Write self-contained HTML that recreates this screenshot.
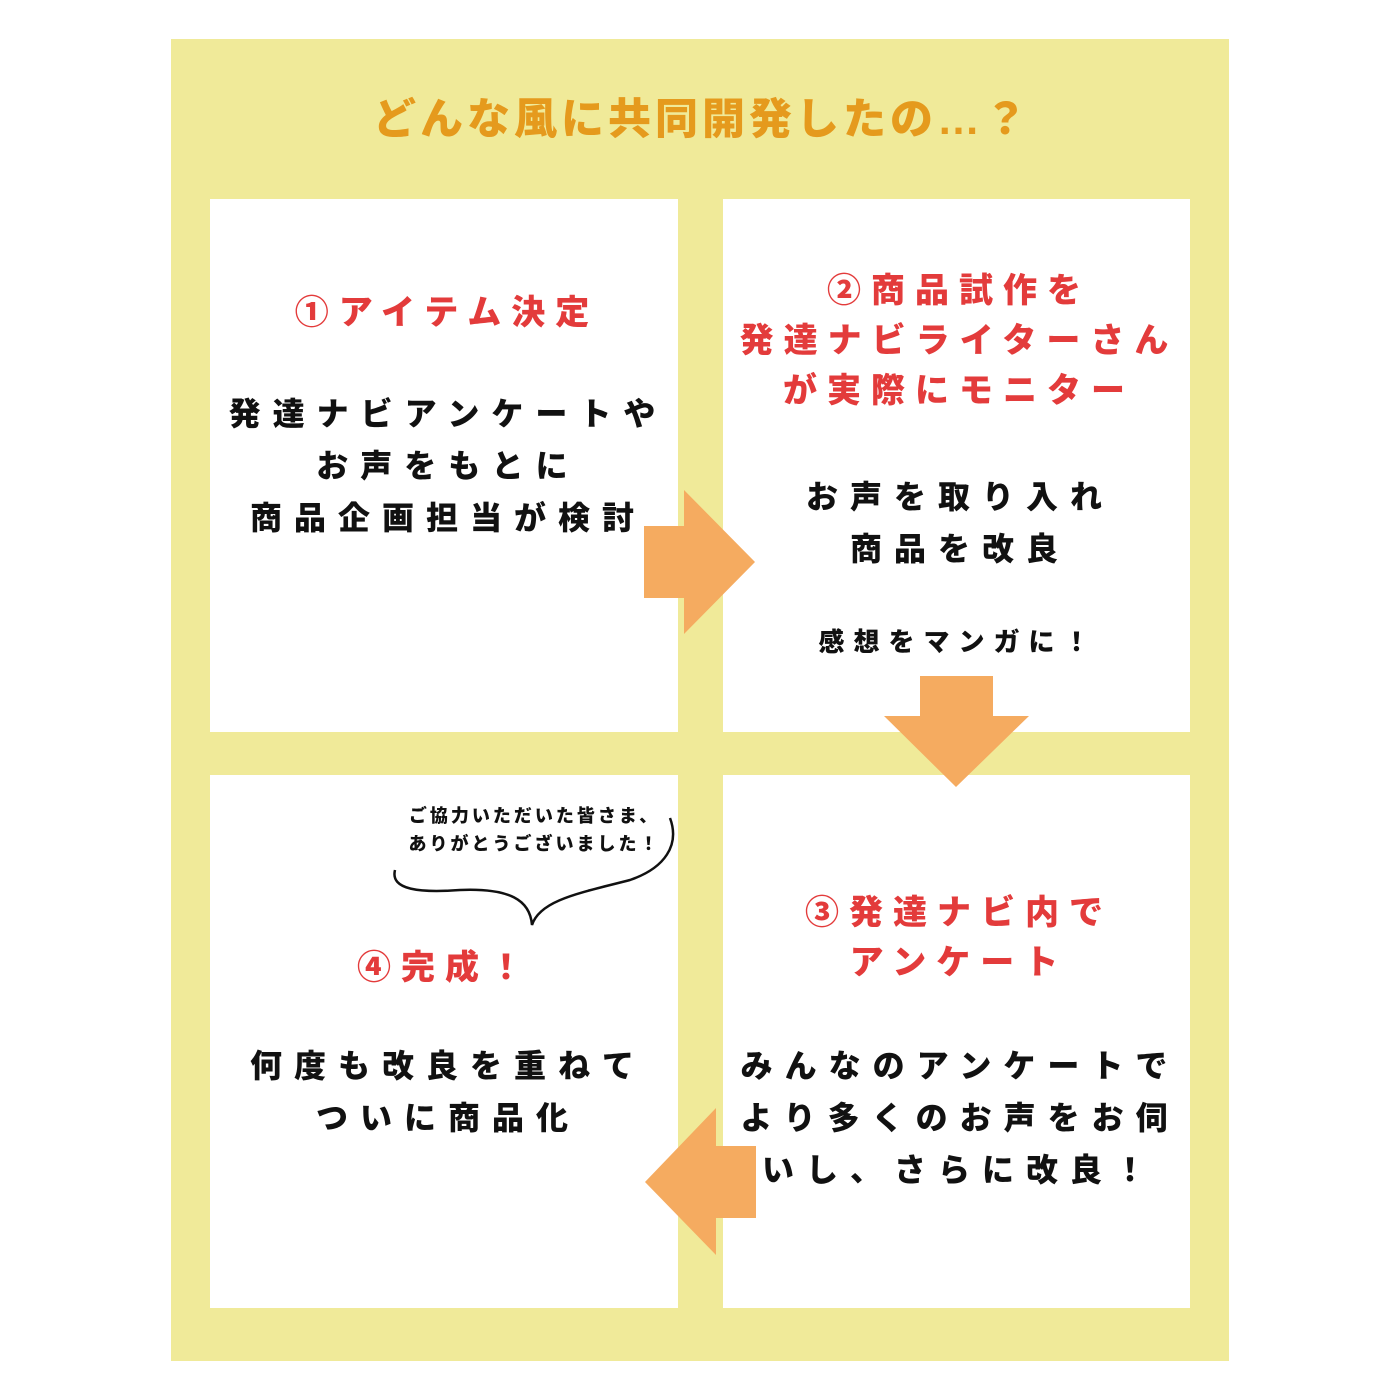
<!DOCTYPE html>
<html><head><meta charset="utf-8"><style>
body{margin:0;width:1400px;height:1400px;background:#fff;position:relative;overflow:hidden;font-family:"Liberation Sans","Noto Sans CJK JP",sans-serif;font-weight:900}
.bg{position:absolute;left:171px;top:39px;width:1058px;height:1322px;background:#f0ea99}
.box{position:absolute;background:#fff;width:468px;height:533px}
.t{position:absolute;white-space:nowrap;text-align:center;transform:translateX(-50%);font-weight:900}
.r{color:#e33b3b;font-size:34px;letter-spacing:10px;padding-left:10px}
.k{color:#111;font-size:32px;letter-spacing:12px;padding-left:12px}
svg{position:absolute;left:0;top:0}
</style></head><body>
<div class="bg"></div>
<div class="box" style="left:210px;top:199px"></div>
<div class="box" style="left:723px;top:199px;width:467px"></div>
<div class="box" style="left:210px;top:775px"></div>
<div class="box" style="left:723px;top:775px;width:467px"></div>
<div class="t" style="left:700px;top:85px;color:#e59a1d;font-size:43px;letter-spacing:4px;padding-left:4px">どんな風に共同開発したの…？</div>

<div class="t r" style="left:442px;top:285px">①アイテム決定</div>
<div class="t k" style="left:442px;top:388px;line-height:52px">発達ナビアンケートや<br>お声をもとに<br>商品企画担当が検討</div>

<div class="t r" style="left:954px;top:266px;line-height:50px">②商品試作を<br>発達ナビライターさん<br>が実際にモニター</div>
<div class="t k" style="left:954px;top:471px;line-height:52px">お声を取り入れ<br>商品を改良</div>
<div class="t k" style="left:954px;top:622px;font-size:26px;letter-spacing:9px;padding-left:9px">感想をマンガに！</div>

<div class="t r" style="left:954px;top:888px;line-height:50px">③発達ナビ内で<br>アンケート</div>
<div class="t k" style="left:954px;top:1040px;line-height:52px">みんなのアンケートで<br>より多くのお声をお伺<br>いし、さらに改良！</div>

<div class="t" style="left:533px;top:802px;font-size:18px;letter-spacing:3px;padding-left:3px;line-height:28px;color:#111">ご協力いただいた皆さま、<br>ありがとうございました！</div>
<div class="t r" style="left:440px;top:940px">④完成！</div>
<div class="t k" style="left:442px;top:1040px;line-height:52px">何度も改良を重ねて<br>ついに商品化</div>

<svg width="1400" height="1400">
<g fill="#f5ab60">
<polygon points="644,526 684,526 684,490 755,562 684,634 684,598 644,598"/>
<polygon points="920,676 993,676 993,716 1029,716 956,787 884,716 920,716"/>
<polygon points="756,1146 716,1146 716,1108 645,1182 716,1255 716,1218 756,1218"/>
</g>
<path d="M395,870 C390,890 420,893 460,890 C510,888 530,900 532,925 C540,900 580,893 630,880 C665,868 680,845 670,818" fill="none" stroke="#111" stroke-width="2.5"/>
</svg>
</body></html>
